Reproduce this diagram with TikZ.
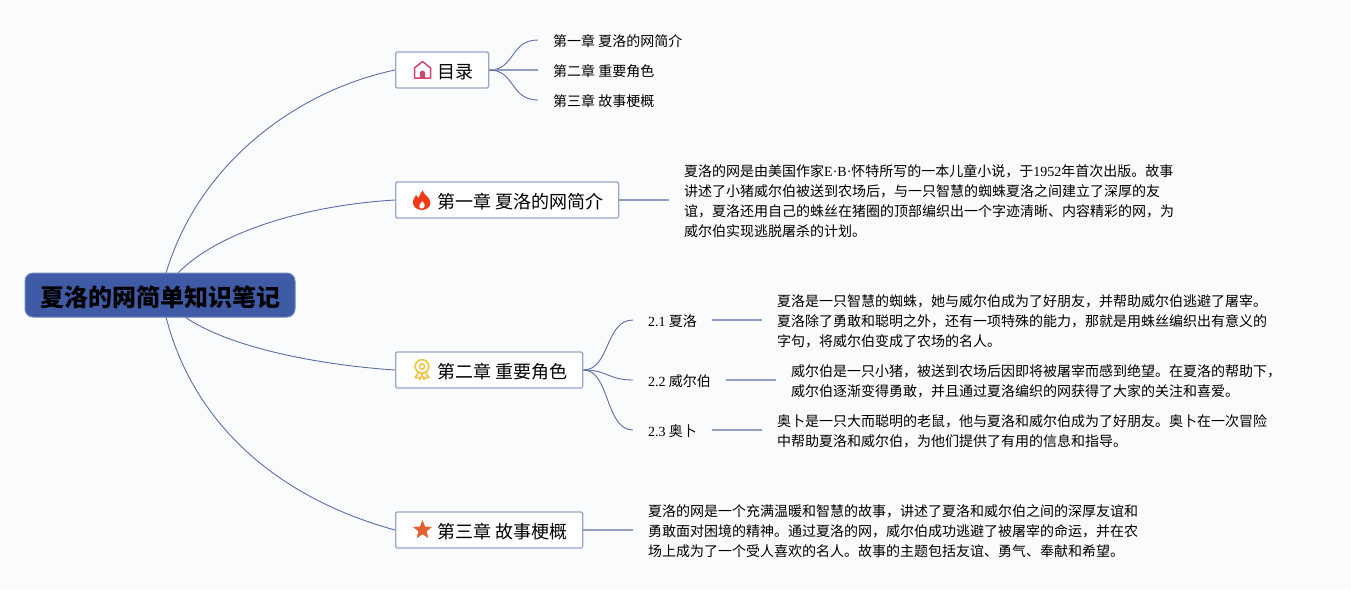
\documentclass[tikz,border=0pt]{standalone}
\usepackage{fontspec}
\setmainfont{Noto Sans CJK SC}
\newfontfamily\latinfont{Liberation Serif}
\newcommand{\lat}[1]{{\latinfont #1}}
\usetikzlibrary{shapes.geometric}
\definecolor{pagebg}{HTML}{FAFBFD}
\definecolor{rootfill}{HTML}{3F5BA5}
\definecolor{rootline}{HTML}{7085BD}
\definecolor{boxline}{HTML}{98A5CC}
\definecolor{curveline}{HTML}{5C6EA8}
\definecolor{flatline}{HTML}{8F9DC6}
\tikzset{
    rootnode/.style={draw=rootline,fill=rootfill,rounded corners=8pt,line width=1pt,minimum width=270pt,minimum height=44pt,font=\fontsize{24}{28}\selectfont\bfseries,inner sep=0pt,execute at begin node={\rule{0pt}{25pt}}},
    chapter/.style={draw=boxline,fill=white,rounded corners=1.5pt,line width=1.4pt,minimum height=36pt,font=\fontsize{18}{22}\selectfont,inner xsep=15pt,inner ysep=0pt,anchor=west,execute at begin node={\rule{0pt}{18.6pt}}},
    leaf/.style={font=\fontsize{14}{20}\selectfont,inner xsep=15pt,inner ysep=2pt,anchor=west,align=left,execute at begin node={\rule{0pt}{14.3pt}}},
    para/.style={font=\fontsize{14}{20}\selectfont,inner xsep=15pt,inner ysep=2pt,anchor=west,align=left,yshift=-1.6pt},
    curve/.style={draw=curveline,line width=0.9pt},
    flat/.style={draw=flatline,line width=1.2pt},
    iconhouse/.pic={
        \draw[color={rgb,255:red,208;green,67;blue,106},line width=1.5pt,line join=round] (-8,8) -- (-8,-2) -- (0,-8.5) -- (8,-2) -- (8,8) -- cycle;
        \fill[color={rgb,255:red,208;green,67;blue,106}] (-2.5,8) -- (-2.5,3) arc[start angle=180,end angle=360,radius=2.5] -- (2.5,8) -- cycle;
    },
    iconflame/.pic={
        \fill[color={rgb,255:red,240;green,58;blue,23}] (0,10) .. controls (-6,10) and (-9.5,6) .. (-9,1) .. controls (-8.5,-2) and (-6.5,-3) .. (-6,-5) .. controls (-4.5,-4) and (-4,-3) .. (-3.5,-2) .. controls (-2,-5) and (-1,-8) .. (1,-10) .. controls (1,-6) and (4.5,-5) .. (6.5,-2) .. controls (10,2) and (9.5,9) .. (0,10) -- cycle;
        \fill[white] (0,8.5) .. controls (-3,8.5) and (-3.5,5.5) .. (-2,4) .. controls (-1,3) and (0,2) .. (0,1) .. controls (3,3) and (4,8) .. (0,8.5) -- cycle;
    },
    iconmedal/.pic={
        \draw[color={rgb,255:red,245;green,195;blue,59},line width=1.6pt] (0,-3) circle[radius=6.8];
        \draw[color={rgb,255:red,245;green,195;blue,59},line width=1.5pt] (0,-3) circle[radius=2.6];
        \draw[color={rgb,255:red,245;green,195;blue,59},line width=1.5pt,line join=round] (-3.5,3) -- (-7,8) -- (-3.5,8) -- (-2,10) -- (0,5) -- (2,10) -- (3.5,8) -- (7,8) -- (3.5,3);
    }
}
\begin{document}
\begin{tikzpicture}[x=1pt,y=-1pt]
    \useasboundingbox[fill=pagebg] (0,0) rectangle (1351,590);

    \coordinate (r0) at (166,273);
    \coordinate (r1) at (178,273);
    \coordinate (r2) at (185,317);
    \coordinate (r3) at (166,317);

    \draw[curve] (r0) .. controls (200,160) and (300,90) .. (395,70);
    \draw[curve] (r1) .. controls (220,230) and (310,205) .. (395,200);
    \draw[curve] (r2) .. controls (230,348) and (320,365) .. (395,370);
    \draw[curve] (r3) .. controls (195,430) and (285,500) .. (395,530);

    \node[rootnode] (root) at (160,295) {夏洛的网简单知识笔记};

    \node[chapter] (ch0) at (395,70) {\hspace*{27pt}目录};
    \node[chapter] (ch1) at (395,200) {\hspace*{27pt}第一章 夏洛的网简介};
    \node[chapter] (ch2) at (395,370) {\hspace*{27pt}第二章 重要角色};
    \node[chapter] (ch3) at (395,530) {\hspace*{27pt}第三章 故事梗概};

    \pic at ([xshift=27.5pt]ch0.west) {iconhouse};
    \pic at ([xshift=27pt]ch1.west) {iconflame};
    \pic at ([xshift=27pt,yshift=0.5pt]ch2.west) {iconmedal};
    \node[star,star points=5,star point ratio=2.3,fill={rgb,255:red,226;green,98;blue,47},minimum size=20pt,inner sep=0pt] (ch3star) at ([xshift=27.5pt]ch3.west) {};

    \node[leaf] (toc0) at (538,40) {第一章 夏洛的网简介};
    \node[leaf] (toc1) at (538,70) {第二章 重要角色};
    \node[leaf] (toc2) at (538,100) {第三章 故事梗概};
    \draw[curve] (ch0.east) .. controls (515,70) and (510,40) .. (toc0.west);
    \draw[flat] (ch0.east) -- (toc1.west);
    \draw[curve] (ch0.east) .. controls (515,70) and (510,100) .. (toc2.west);

    \node[para] (intro) at (669,200) {夏洛的网是由美国作家\lat{E·B·}怀特所写的一本儿童小说，于\lat{1952}年首次出版。故事\\讲述了小猪威尔伯被送到农场后，与一只智慧的蜘蛛夏洛之间建立了深厚的友\\谊，夏洛还用自己的蛛丝在猪圈的顶部编织出一个字迹清晰、内容精彩的网，为\\威尔伯实现逃脱屠杀的计划。};
    \draw[flat] (ch1.east) -- (ch1.east -| intro.west);

    \node[leaf] (role1) at (633,320) {\lat{2.1} 夏洛};
    \node[leaf] (role2) at (633,380) {\lat{2.2} 威尔伯};
    \node[leaf] (role3) at (633,430) {\lat{2.3} 奥卜};
    \draw[curve] (ch2.east) .. controls (610,370) and (605,320) .. (role1.west);
    \draw[curve] (ch2.east) .. controls (608,370) and (608,380) .. (role2.west);
    \draw[curve] (ch2.east) .. controls (610,370) and (605,430) .. (role3.west);

    \node[para] (info1) at (762,320) {夏洛是一只智慧的蜘蛛，她与威尔伯成为了好朋友，并帮助威尔伯逃避了屠宰。\\夏洛除了勇敢和聪明之外，还有一项特殊的能力，那就是用蛛丝编织出有意义的\\字句，将威尔伯变成了农场的名人。};
    \node[para] (info2) at (776,380) {威尔伯是一只小猪，被送到农场后因即将被屠宰而感到绝望。在夏洛的帮助下，\\威尔伯逐渐变得勇敢，并且通过夏洛编织的网获得了大家的关注和喜爱。};
    \node[para] (info3) at (762,430) {奥卜是一只大而聪明的老鼠，他与夏洛和威尔伯成为了好朋友。奥卜在一次冒险\\中帮助夏洛和威尔伯，为他们提供了有用的信息和指导。};
    \draw[flat] (role1.east) -- (role1.east -| info1.west);
    \draw[flat] (role2.east) -- (role2.east -| info2.west);
    \draw[flat] (role3.east) -- (role3.east -| info3.west);

    \node[para] (story) at (633,530) {夏洛的网是一个充满温暖和智慧的故事，讲述了夏洛和威尔伯之间的深厚友谊和\\勇敢面对困境的精神。通过夏洛的网，威尔伯成功逃避了被屠宰的命运，并在农\\场上成为了一个受人喜欢的名人。故事的主题包括友谊、勇气、奉献和希望。};
    \draw[flat] (ch3.east) -- (ch3.east -| story.west);
\end{tikzpicture}
\end{document}
